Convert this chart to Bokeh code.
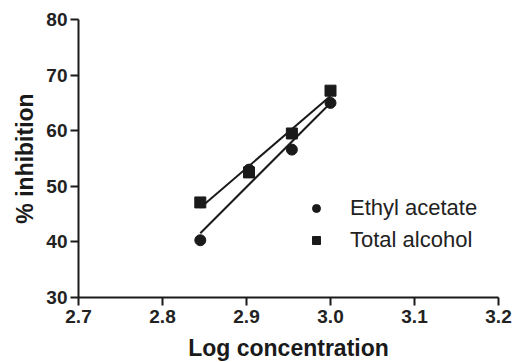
import numpy as np
from bokeh.plotting import figure
from bokeh.models import Range1d, FixedTicker, Legend, LegendItem
from bokeh.embed import file_html
from bokeh.resources import INLINE

# data
log_conc = [2.845, 2.903, 2.954, 3.000]
ethyl_acetate = [40.3, 53.0, 56.6, 65.0]
total_alcohol = [47.1, 52.5, 59.5, 67.2]
series_names = ["Ethyl acetate", "Total alcohol"]
x_ticks = [2.7, 2.8, 2.9, 3.0, 3.1, 3.2]
x_tick_labels = ["2.7", "2.8", "2.9", "3.0", "3.1", "3.2"]
y_ticks = [30, 40, 50, 60, 70, 80]
y_tick_labels = ["30", "40", "50", "60", "70", "80"]

FONT = "Liberation Sans"

p = figure(frame_width=420, frame_height=278,
           x_range=Range1d(2.7, 3.2), y_range=Range1d(30, 80),
           output_backend="svg", toolbar_location=None,
           min_border_left=78, min_border_right=14, min_border_top=19, min_border_bottom=56)
p.outline_line_color = None
p.xgrid.visible = False
p.ygrid.visible = False

for ax in (p.xaxis[0], p.yaxis[0]):
    ax.axis_line_width = 2
    ax.axis_line_color = "#1a1a1a"
    ax.major_tick_line_width = 2
    ax.major_tick_line_color = "#1a1a1a"
    ax.major_tick_out = 8
    ax.major_tick_in = 0
    ax.minor_tick_line_color = None
    ax.major_label_text_font = FONT
    ax.major_label_text_font_style = "bold"
    ax.major_label_text_font_size = "19px"
    ax.major_label_text_color = "#222222"
    ax.axis_label_text_font = FONT
    ax.axis_label_text_font_style = "bold"
    ax.axis_label_text_font_size = "23px"
    ax.axis_label_text_color = "#1a1a1a"

p.xaxis.ticker = FixedTicker(ticks=x_ticks)
p.yaxis.ticker = FixedTicker(ticks=y_ticks)
p.xaxis.major_label_overrides = {t: l for t, l in zip(x_ticks, x_tick_labels)}
p.yaxis.major_label_overrides = {t: l for t, l in zip(y_ticks, y_tick_labels)}
p.xaxis.axis_label = "Log concentration"
p.yaxis.axis_label = "% inhibition"
p.xaxis.major_label_standoff = 4
p.yaxis.major_label_standoff = 3
p.xaxis.axis_label_standoff = 9
p.yaxis.axis_label_standoff = 5

# regression lines
xs = np.array(log_conc)
for ys in (ethyl_acetate, total_alcohol):
    m, b = np.polyfit(xs, np.array(ys), 1)
    xe = [xs[0], xs[-1]]
    p.line(xe, [m * xe[0] + b, m * xe[1] + b], line_color="#1a1a1a", line_width=2)

r1 = p.scatter(log_conc, ethyl_acetate, marker="circle", size=11,
               fill_color="#1a1a1a", line_color="#1a1a1a")
r2 = p.scatter(log_conc, total_alcohol, marker="square", size=11,
               fill_color="#1a1a1a", line_color="#1a1a1a")

legend = Legend(items=[LegendItem(label=series_names[0], renderers=[r1]),
                       LegendItem(label=series_names[1], renderers=[r2])],
                location=(228, 44), orientation="vertical",
                glyph_width=20, glyph_height=26, label_height=26, spacing=6,
                label_standoff=24, padding=0, margin=0,
                border_line_color=None, background_fill_alpha=0,
                label_text_font=FONT, label_text_font_size="22px",
                label_text_color="#222222")
p.add_layout(legend)

open("out.html", "w").write(file_html(p, INLINE))
